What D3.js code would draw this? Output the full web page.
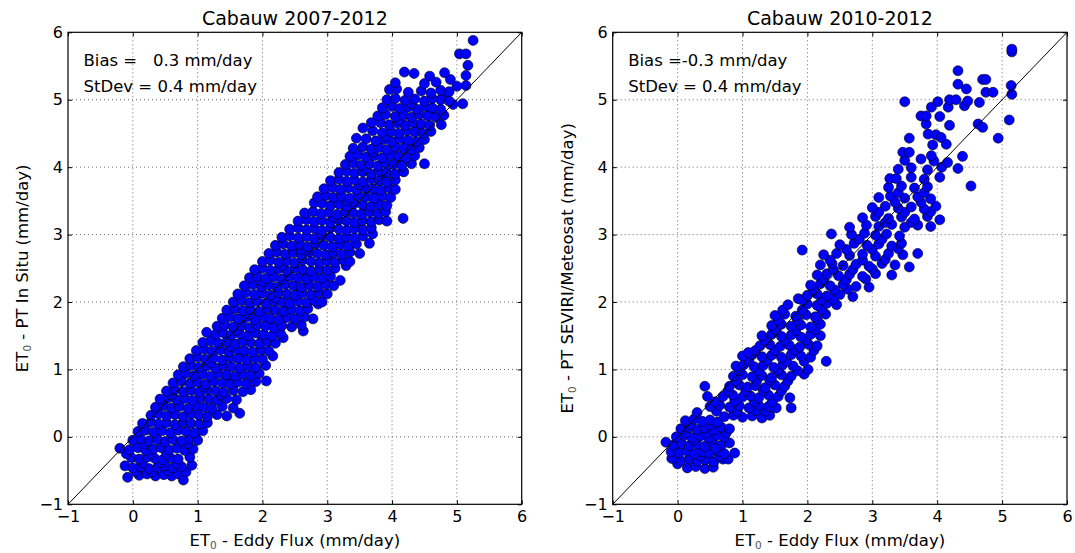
<!DOCTYPE html>
<html>
<head>
<meta charset="utf-8">
<script src="https://cdn.jsdelivr.net/npm/d3@7"></script>
<style>
  body { margin: 0; background: #fff; }
  text { font-family: "DejaVu Sans", sans-serif; fill: #000; }
</style>
</head>
<body>
<div id="chart"></div>
<script>
// # Panel texts
const titles = ['Cabauw 2007-2012', 'Cabauw 2010-2012']
const yLabels = [' - PT In Situ (mm/day)', ' - PT SEVIRI/Meteosat (mm/day)']
const biasLabels = ['Bias =   0.3 mm/day', 'Bias =-0.3 mm/day']
const stdevLabels = ['StDev = 0.4 mm/day', 'StDev = 0.4 mm/day']
const xLabel = ' - Eddy Flux (mm/day)'
const tickValues = [-1, 0, 1, 2, 3, 4, 5, 6]

// # Left panel: eddy flux vs PT in situ, [x, y] in mm/day
const insituPoints = [
  [-0.08,-0.6],[0.1,-0.57],[0.22,-0.55],[0.35,-0.58],[0.48,-0.56],[0.6,-0.58],[0.7,-0.55],[0.78,-0.64],
  [0.05,-0.52],[0.3,-0.52],[0.55,-0.5],[0.82,-0.52],
  [-0.12,-0.43],[0.0,-0.46],[0.12,-0.44],[0.25,-0.47],[0.38,-0.45],[0.5,-0.43],[0.62,-0.46],[0.75,-0.44],[0.91,-0.42],
  [0.15,-0.38],[0.42,-0.38],[0.68,-0.4],
  [-0.02,-0.31],[0.1,-0.33],[0.22,-0.3],[0.34,-0.32],[0.46,-0.34],[0.58,-0.31],[0.7,-0.33],[0.88,-0.3],
  [-0.1,-0.25],[0.28,-0.25],[0.52,-0.25],
  [-0.2,-0.17],[-0.05,-0.19],[0.08,-0.16],[0.2,-0.2],[0.32,-0.18],[0.44,-0.16],[0.56,-0.19],[0.68,-0.17],[0.8,-0.2],[0.93,-0.18],
  [0.85,-0.1],[0.96,0.02],[0.18,-0.1],
  [0.0,-0.05],[0.12,-0.03],[0.25,-0.06],[0.38,-0.04],[0.5,-0.07],[0.62,-0.04],[0.75,-0.06],[0.88,-0.03],[1.0,-0.05],
  [0.08,0.08],[0.2,0.1],[0.32,0.07],[0.45,0.09],[0.58,0.06],[0.7,0.1],[0.82,0.08],[0.95,0.06],[1.08,0.09],
  [0.15,0.2],[0.28,0.22],[0.4,0.19],[0.52,0.21],[0.65,0.18],[0.78,0.22],[0.9,0.2],[1.03,0.19],[1.15,0.21],
  [0.28,0.32],[0.4,0.34],[0.52,0.31],[0.65,0.33],[0.78,0.3],[0.9,0.34],[1.02,0.32],[1.15,0.3],[1.3,0.33],[1.45,0.31],
  [0.35,0.44],[0.48,0.46],[0.6,0.43],[0.72,0.45],[0.85,0.42],[0.98,0.46],[1.1,0.44],[1.22,0.42],[1.38,0.45],[1.55,0.43],[1.65,0.35],
  [0.42,0.56],[0.55,0.58],[0.68,0.55],[0.8,0.57],[0.92,0.54],[1.05,0.58],[1.18,0.56],[1.3,0.54],[1.45,0.57],[1.6,0.55],
  [0.6,0.62],[1.36,0.62],
  [0.52,0.68],[0.65,0.7],[0.78,0.67],[0.9,0.69],[1.02,0.66],[1.15,0.7],[1.28,0.68],[1.4,0.66],[1.55,0.69],[1.7,0.67],[1.82,0.7],
  [1.1,0.74],[1.45,0.86],
  [0.62,0.8],[0.75,0.82],[0.88,0.79],[1.0,0.81],[1.12,0.78],[1.25,0.82],[1.38,0.8],[1.5,0.78],[1.62,0.81],[1.75,0.79],[1.9,0.82],[2.06,0.83],
  [0.7,0.92],[0.82,0.94],[0.95,0.91],[1.08,0.93],[1.2,0.9],[1.32,0.94],[1.45,0.92],[1.58,0.9],[1.7,0.93],[1.82,0.91],[1.95,0.94],
  [0.78,1.04],[0.9,1.06],[1.02,1.03],[1.15,1.05],[1.28,1.02],[1.4,1.06],[1.52,1.04],[1.65,1.02],[1.78,1.05],[1.9,1.03],[2.05,1.06],
  [1.2,1.1],[1.7,1.22],
  [0.88,1.16],[1.0,1.18],[1.12,1.15],[1.25,1.17],[1.38,1.14],[1.5,1.18],[1.62,1.16],[1.75,1.14],[1.88,1.17],[2.0,1.15],[2.16,1.2],
  [0.98,1.28],[1.1,1.3],[1.22,1.27],[1.35,1.29],[1.48,1.26],[1.6,1.3],[1.72,1.28],[1.85,1.26],[1.98,1.29],[2.1,1.27],
  [1.5,1.34],[2.0,1.46],
  [1.08,1.4],[1.2,1.42],[1.32,1.39],[1.45,1.41],[1.58,1.38],[1.7,1.42],[1.82,1.4],[1.95,1.38],[2.08,1.41],[2.2,1.39],[2.32,1.47],
  [1.14,1.55],[1.28,1.52],[1.4,1.54],[1.52,1.51],[1.65,1.53],[1.78,1.5],[1.9,1.54],[2.02,1.52],[2.15,1.5],[2.28,1.53],[2.63,1.57],
  [1.6,1.58],[2.1,1.7],
  [1.3,1.64],[1.42,1.66],[1.55,1.63],[1.68,1.65],[1.8,1.62],[1.92,1.66],[2.05,1.64],[2.18,1.62],[2.3,1.65],[2.45,1.63],[2.6,1.66],
  [1.38,1.76],[1.5,1.78],[1.62,1.75],[1.75,1.77],[1.88,1.74],[2.0,1.78],[2.12,1.76],[2.25,1.74],[2.38,1.77],[2.5,1.75],[2.65,1.78],[2.78,1.75],
  [1.8,1.82],[2.4,1.94],
  [1.45,1.88],[1.58,1.9],[1.7,1.87],[1.82,1.89],[1.95,1.86],[2.08,1.9],[2.2,1.88],[2.32,1.86],[2.45,1.89],[2.58,1.87],[2.7,1.9],[2.86,1.97],
  [1.55,2.0],[1.68,2.02],[1.8,1.99],[1.92,2.01],[2.05,1.98],[2.18,2.02],[2.3,2.0],[2.42,1.98],[2.55,2.01],[2.68,1.99],[2.8,2.02],[2.92,2.0],
  [2.2,2.06],[2.6,2.18],
  [1.62,2.12],[1.75,2.14],[1.88,2.11],[2.0,2.13],[2.12,2.1],[2.25,2.14],[2.38,2.12],[2.5,2.1],[2.62,2.13],[2.75,2.11],[2.88,2.14],[3.0,2.12],
  [1.72,2.24],[1.85,2.26],[1.98,2.23],[2.1,2.25],[2.22,2.22],[2.35,2.26],[2.48,2.24],[2.6,2.22],[2.72,2.25],[2.85,2.23],[2.98,2.26],[3.1,2.24],
  [2.0,2.3],[2.7,2.42],
  [1.8,2.36],[1.92,2.38],[2.05,2.35],[2.18,2.37],[2.3,2.34],[2.42,2.38],[2.55,2.36],[2.68,2.34],[2.8,2.37],[2.92,2.35],[3.05,2.38],[3.2,2.32],
  [1.88,2.48],[2.0,2.5],[2.12,2.47],[2.25,2.49],[2.38,2.46],[2.5,2.5],[2.62,2.48],[2.75,2.46],[2.88,2.49],[3.0,2.47],[3.12,2.5],[3.29,2.54],
  [2.3,2.54],[3.0,2.66],
  [2.0,2.6],[2.12,2.62],[2.25,2.59],[2.38,2.61],[2.5,2.58],[2.62,2.62],[2.75,2.6],[2.88,2.58],[3.0,2.61],[3.12,2.59],[3.25,2.62],[3.35,2.6],
  [2.1,2.72],[2.22,2.74],[2.35,2.71],[2.48,2.73],[2.6,2.7],[2.72,2.74],[2.85,2.72],[2.98,2.7],[3.1,2.73],[3.22,2.71],[3.35,2.74],[3.5,2.72],
  [2.6,2.78],[3.2,2.9],
  [2.2,2.84],[2.32,2.86],[2.45,2.83],[2.58,2.85],[2.7,2.82],[2.82,2.86],[2.95,2.84],[3.08,2.82],[3.2,2.85],[3.32,2.83],[3.45,2.86],[3.65,2.87],
  [2.3,2.96],[2.42,2.98],[2.55,2.95],[2.68,2.97],[2.8,2.94],[2.92,2.98],[3.05,2.96],[3.18,2.94],[3.3,2.97],[3.42,2.95],[3.55,2.98],[3.7,3.01],
  [2.9,3.02],[3.5,3.14],
  [2.42,3.08],[2.55,3.1],[2.68,3.07],[2.8,3.09],[2.92,3.06],[3.05,3.1],[3.18,3.08],[3.3,3.06],[3.42,3.09],[3.55,3.07],[3.68,3.1],
  [2.55,3.2],[2.68,3.22],[2.8,3.19],[2.92,3.21],[3.05,3.18],[3.18,3.22],[3.3,3.2],[3.42,3.18],[3.55,3.21],[3.68,3.19],[3.8,3.22],[3.92,3.2],[4.17,3.24],
  [3.1,3.26],[3.6,3.38],
  [2.65,3.32],[2.78,3.34],[2.9,3.31],[3.02,3.33],[3.15,3.3],[3.28,3.34],[3.4,3.32],[3.52,3.3],[3.65,3.33],[3.78,3.31],[3.9,3.34],
  [2.8,3.47],[2.92,3.46],[3.05,3.43],[3.18,3.45],[3.3,3.42],[3.42,3.46],[3.55,3.44],[3.68,3.42],[3.8,3.45],[3.92,3.43],
  [3.3,3.5],[3.8,3.62],
  [2.85,3.56],[2.98,3.58],[3.1,3.55],[3.22,3.57],[3.35,3.54],[3.48,3.58],[3.6,3.56],[3.72,3.54],[3.85,3.57],[3.98,3.55],
  [2.95,3.68],[3.08,3.7],[3.2,3.67],[3.32,3.69],[3.45,3.66],[3.58,3.7],[3.7,3.68],[3.82,3.66],[3.95,3.69],[4.05,3.67],
  [3.5,3.74],[3.9,3.86],
  [3.05,3.8],[3.18,3.82],[3.3,3.79],[3.42,3.81],[3.55,3.78],[3.68,3.82],[3.8,3.8],[3.92,3.78],[4.05,3.81],
  [3.18,3.92],[3.3,3.94],[3.42,3.91],[3.55,3.93],[3.68,3.9],[3.8,3.94],[3.92,3.92],[4.05,3.9],[4.18,3.93],
  [3.6,3.98],[4.1,4.1],
  [3.28,4.04],[3.4,4.06],[3.52,4.03],[3.65,4.05],[3.78,4.02],[3.9,4.06],[4.02,4.04],[4.15,4.02],[4.3,4.05],[4.5,4.05],
  [3.35,4.16],[3.48,4.18],[3.6,4.15],[3.72,4.17],[3.85,4.14],[3.98,4.18],[4.1,4.16],[4.22,4.14],[4.35,4.17],
  [3.7,4.22],[4.25,4.34],
  [3.4,4.28],[3.55,4.3],[3.68,4.27],[3.8,4.29],[3.92,4.26],[4.05,4.3],[4.18,4.28],[4.3,4.26],[4.42,4.29],
  [3.45,4.43],[3.6,4.42],[3.75,4.39],[3.88,4.41],[4.0,4.38],[4.12,4.42],[4.25,4.4],[4.38,4.38],[4.5,4.41],
  [3.9,4.46],[4.4,4.58],
  [3.55,4.58],[3.7,4.54],[3.85,4.51],[3.98,4.53],[4.1,4.5],[4.22,4.54],[4.35,4.52],[4.48,4.5],[4.6,4.53],
  [3.68,4.66],[3.82,4.66],[3.95,4.63],[4.08,4.65],[4.2,4.62],[4.32,4.66],[4.45,4.64],[4.58,4.62],[4.76,4.63],
  [4.1,4.7],[4.6,4.82],
  [3.78,4.76],[3.9,4.78],[4.05,4.75],[4.18,4.77],[4.3,4.74],[4.42,4.78],[4.55,4.76],[4.68,4.74],[4.8,4.77],
  [3.85,4.88],[4.0,4.9],[4.12,4.87],[4.25,4.89],[4.38,4.86],[4.5,4.9],[4.62,4.88],[4.75,4.86],[4.94,4.93],[5.09,4.94],
  [4.3,4.94],[4.8,5.06],
  [3.92,5.0],[4.05,5.02],[4.2,4.99],[4.35,5.01],[4.5,4.98],[4.62,5.02],[4.75,5.0],[4.88,4.98],
  [3.96,5.15],[4.07,5.16],[4.25,5.11],[4.45,5.13],[4.6,5.1],[4.75,5.14],[4.88,5.12],[5.14,5.21],
  [4.05,5.25],[4.5,5.24],[4.68,5.26],[4.9,5.3],[5.0,5.2],
  [4.19,5.41],[4.34,5.39],[4.58,5.35],[4.81,5.4],[5.14,5.36],[5.17,5.51],[5.04,5.68],[5.14,5.68],[5.25,5.88]
]

// # Right panel: eddy flux vs PT SEVIRI/Meteosat, [x, y] in mm/day
const seviriPoints = [
  [0.15,-0.46],[0.28,-0.44],[0.42,-0.47],[0.55,-0.45],[0.0,-0.4],
  [-0.09,-0.32],[0.05,-0.35],[0.18,-0.33],[0.3,-0.36],[0.43,-0.34],[0.56,-0.37],[0.7,-0.33],[0.78,-0.33],
  [0.35,-0.28],[0.65,-0.29],
  [-0.1,-0.22],[0.02,-0.24],[0.14,-0.21],[0.26,-0.25],[0.38,-0.22],[0.5,-0.24],[0.62,-0.21],[0.72,-0.25],[0.88,-0.24],
  [-0.18,-0.08],[-0.06,-0.12],[0.06,-0.1],[0.18,-0.13],[0.3,-0.11],[0.42,-0.14],[0.55,-0.1],[0.68,-0.12],[0.8,-0.09],
  [0.25,-0.05],[0.58,-0.17],
  [-0.02,0.0],[0.1,0.02],[0.22,-0.01],[0.35,0.01],[0.48,-0.02],[0.6,0.02],[0.72,0.0],
  [0.12,0.06],[0.45,0.06],[0.75,0.06],
  [0.05,0.12],[0.18,0.14],[0.3,0.11],[0.42,0.13],[0.55,0.1],[0.68,0.14],[0.8,0.12],
  [0.2,0.18],[0.5,0.18],
  [0.12,0.24],[0.25,0.26],[0.38,0.23],[0.5,0.25],[0.62,0.22],
  [0.3,0.36],[0.46,0.6],[0.42,0.75],
  [0.72,0.3],[0.86,0.32],[1.0,0.29],[1.15,0.31],[1.3,0.28],[1.42,0.32],
  [0.6,0.38],[0.92,0.38],[1.2,0.39],[1.35,0.38],
  [0.5,0.45],[0.65,0.47],[0.8,0.44],[0.95,0.46],[1.1,0.43],[1.25,0.47],[1.4,0.45],[1.52,0.43],[1.75,0.43],
  [0.58,0.52],[0.88,0.53],[1.18,0.52],[1.46,0.52],
  [0.7,0.6],[0.85,0.62],[1.0,0.59],[1.12,0.61],[1.25,0.58],[1.4,0.62],[1.55,0.6],[1.73,0.58],
  [0.78,0.68],[1.05,0.68],[1.32,0.69],[1.6,0.68],
  [0.8,0.75],[0.95,0.77],[1.08,0.74],[1.2,0.76],[1.35,0.73],[1.5,0.77],[1.65,0.75],
  [0.9,0.83],[1.22,0.83],[1.42,0.84],[1.7,0.83],
  [0.86,0.9],[1.0,0.92],[1.15,0.89],[1.3,0.91],[1.45,0.88],[1.6,0.92],[1.75,0.9],[1.95,0.93],
  [0.95,0.98],[1.25,0.98],[1.55,0.99],[1.85,0.98],
  [0.9,1.05],[1.02,1.07],[1.18,1.04],[1.32,1.06],[1.48,1.03],[1.62,1.07],[1.78,1.05],[2.01,1.0],
  [1.1,1.12],[1.38,1.13],[1.68,1.12],[1.95,1.12],
  [1.0,1.2],[1.15,1.22],[1.3,1.19],[1.45,1.21],[1.6,1.18],[1.75,1.22],[1.9,1.2],[2.05,1.18],[2.29,1.12],
  [1.2,1.28],[1.5,1.28],[1.8,1.29],[2.1,1.28],
  [1.09,1.25],[1.27,1.35],[1.42,1.37],[1.58,1.34],[1.72,1.36],[1.88,1.33],[2.02,1.37],[2.15,1.35],
  [1.35,1.43],[1.65,1.43],[1.98,1.44],
  [1.3,1.5],[1.45,1.52],[1.6,1.49],[1.75,1.51],[1.9,1.48],[2.05,1.52],[2.2,1.5],
  [1.52,1.58],[1.82,1.58],[2.12,1.59],
  [1.45,1.65],[1.6,1.67],[1.75,1.64],[1.9,1.66],[2.05,1.63],[2.2,1.67],
  [1.55,1.73],[1.85,1.73],[2.15,1.74],
  [1.5,1.8],[1.65,1.82],[1.82,1.79],[1.98,1.81],[2.12,1.78],[2.28,1.82],
  [1.62,1.88],[1.92,1.88],[2.22,1.89],
  [1.7,1.96],[1.86,2.05],[2.0,1.97],[2.15,1.95],[2.3,1.98],[2.45,1.96],
  [1.92,2.03],[2.22,2.03],[2.4,2.04],
  [2.0,2.1],[2.15,2.12],[2.3,2.09],[2.5,2.11],[2.7,2.08],
  [2.1,2.18],[2.42,2.18],[2.62,2.19],
  [2.05,2.25],[2.2,2.27],[2.35,2.24],[2.55,2.26],[2.75,2.23],[2.95,2.22],
  [2.25,2.33],[2.6,2.33],[2.9,2.34],
  [2.15,2.4],[2.3,2.42],[2.48,2.39],[2.65,2.41],[2.85,2.38],[3.05,2.42],[3.3,2.4],
  [2.4,2.48],[2.7,2.48],[3.0,2.49],
  [2.2,2.55],[2.38,2.57],[2.55,2.54],[2.75,2.56],[2.95,2.53],[3.15,2.57],[3.35,2.55],[3.57,2.52],
  [2.35,2.62],[2.85,2.62],[3.2,2.63],
  [2.25,2.7],[2.45,2.72],[2.65,2.69],[2.85,2.71],[3.05,2.68],[3.25,2.72],[3.47,2.7],[3.7,2.72],
  [1.92,2.77],[2.6,2.78],[3.0,2.78],[3.4,2.79],
  [2.5,2.85],[2.72,2.87],[2.92,2.84],[3.1,2.86],[3.3,2.83],[3.45,2.87],
  [2.8,2.93],[3.15,2.93],
  [2.37,3.01],[2.68,3.0],[2.88,3.02],[3.05,2.99],[3.22,3.01],[3.42,2.98],
  [2.65,3.11],[2.91,3.14],[3.1,3.12],[3.3,3.15],[3.5,3.11],[3.7,3.14],[3.9,3.12],
  [3.2,3.18],[3.6,3.18],
  [2.85,3.25],[3.05,3.27],[3.25,3.24],[3.45,3.26],[3.65,3.23],[3.85,3.27],[4.04,3.22],
  [3.1,3.33],[3.5,3.33],[3.9,3.34],
  [3.0,3.4],[3.2,3.42],[3.4,3.39],[3.6,3.41],[3.8,3.38],[3.98,3.42],
  [3.35,3.48],[3.75,3.48],
  [3.1,3.55],[3.28,3.57],[3.5,3.54],[3.7,3.56],[3.9,3.53],
  [3.4,3.62],[3.8,3.62],
  [3.25,3.7],[3.45,3.72],[3.65,3.69],[3.85,3.71],[4.52,3.72],
  [3.27,3.83],[3.37,3.83],[3.6,3.85],[3.8,3.82],[4.04,3.85],
  [3.4,3.97],[3.6,3.99],[3.85,3.96],[4.07,4.0],[4.32,3.98],
  [3.5,4.1],[3.75,4.12],[3.95,4.09],[4.16,4.07],
  [3.47,4.22],[3.57,4.22],[3.91,4.17],[4.39,4.16],
  [3.93,4.33],[4.14,4.34],
  [3.57,4.43],[3.86,4.49],[3.98,4.48],[4.06,4.44],[4.94,4.43],
  [3.83,4.64],[4.19,4.62],[4.63,4.64],[4.7,4.59],
  [3.75,4.76],[3.83,4.76],[4.04,4.75],[5.11,4.7],
  [3.91,4.89],[4.17,4.89],[4.42,4.91],
  [3.5,4.97],[4.01,4.97],[4.19,5.0],[4.29,5.0],[4.47,4.98],[4.65,4.96],
  [4.45,5.16],[4.75,5.11],[4.86,5.11],[5.15,5.08],
  [4.32,5.23],[5.14,5.21],
  [4.7,5.3],[4.75,5.3],
  [4.32,5.43],
  [5.15,5.71],[5.15,5.75]
]

const panelData = [insituPoints, seviriPoints]

// # Layout
const width = 1075
const height = 553
const plotTop = 32.3
const plotBottom = 504.3
const plotLefts = [68, 612.7]
const plotRights = [521.7, 1067]
const pointRadius = 5
const pointColor = '#0000ff'

const minus = (d) => (d < 0 ? '\u2212' + Math.abs(d) : String(d))

const svg = d3.select('#chart')
  .append('svg')
  .attr('width', width)
  .attr('height', height)

// # Draws one scatter panel.
function drawPanel(i) {
  const x = d3.scaleLinear().domain([-1, 6]).range([plotLefts[i], plotRights[i]])
  const y = d3.scaleLinear().domain([-1, 6]).range([plotBottom, plotTop])
  const g = svg.append('g')
  const cx = (plotLefts[i] + plotRights[i]) / 2

  // # Grid
  const inner = tickValues.slice(1, -1)
  g.append('g').selectAll('line').data(inner).enter().append('line')
    .attr('x1', d => x(d)).attr('x2', d => x(d))
    .attr('y1', plotTop).attr('y2', plotBottom)
    .attr('stroke', '#444').attr('stroke-width', 0.8).attr('stroke-dasharray', '1,3')
  g.append('g').selectAll('line').data(inner).enter().append('line')
    .attr('y1', d => y(d)).attr('y2', d => y(d))
    .attr('x1', plotLefts[i]).attr('x2', plotRights[i])
    .attr('stroke', '#444').attr('stroke-width', 0.8).attr('stroke-dasharray', '1,3')

  // # Points
  g.append('g').selectAll('circle').data(panelData[i]).enter().append('circle')
    .attr('cx', d => x(d[0]))
    .attr('cy', d => y(d[1]))
    .attr('r', pointRadius)
    .attr('fill', pointColor)
    .attr('stroke', '#000')
    .attr('stroke-width', 0.6)

  // # 1:1 line
  g.append('line')
    .attr('x1', x(-1)).attr('y1', y(-1))
    .attr('x2', x(6)).attr('y2', y(6))
    .attr('stroke', '#000').attr('stroke-width', 1)

  // # Axes with inward ticks on all sides
  const styleAxis = (a) => {
    a.select('.domain').remove()
    a.attr('font-size', 16).attr('font-family', '"DejaVu Sans", sans-serif')
    a.selectAll('line').attr('stroke', '#000')
  }
  g.append('g').attr('transform', `translate(0,${plotBottom})`)
    .call(d3.axisBottom(x).tickValues(tickValues).tickSize(-4).tickSizeOuter(0).tickPadding(6).tickFormat(minus))
    .call(styleAxis)
  g.append('g').attr('transform', `translate(${plotLefts[i]},0)`)
    .call(d3.axisLeft(y).tickValues(tickValues).tickSize(-4).tickSizeOuter(0).tickPadding(5).tickFormat(minus))
    .call(styleAxis)
  g.append('g').attr('transform', `translate(0,${plotTop})`)
    .call(d3.axisTop(x).tickValues(tickValues).tickSize(-4).tickSizeOuter(0).tickFormat(''))
    .call(styleAxis)
  g.append('g').attr('transform', `translate(${plotRights[i]},0)`)
    .call(d3.axisRight(y).tickValues(tickValues).tickSize(-4).tickSizeOuter(0).tickFormat(''))
    .call(styleAxis)

  // # Frame
  g.append('rect')
    .attr('x', plotLefts[i]).attr('y', plotTop)
    .attr('width', plotRights[i] - plotLefts[i]).attr('height', plotBottom - plotTop)
    .attr('fill', 'none').attr('stroke', '#000').attr('stroke-width', 1.2)

  // # Title
  g.append('text')
    .attr('x', cx).attr('y', 25)
    .attr('text-anchor', 'middle').attr('font-size', 19)
    .text(titles[i])

  // # Stats
  g.append('text')
    .attr('x', plotLefts[i] + 15.5).attr('y', 66)
    .attr('font-size', 16.5).style('white-space', 'pre')
    .text(biasLabels[i])
  g.append('text')
    .attr('x', plotLefts[i] + 15.5).attr('y', 92)
    .attr('font-size', 16.5).style('white-space', 'pre')
    .text(stdevLabels[i])

  // # Axis labels with ET0 subscript
  const addLabel = (sel, rest) => {
    sel.append('tspan').text('ET')
    sel.append('tspan').attr('dy', 3).attr('font-size', 10.5).attr('fill', '#555').text('0')
    sel.append('tspan').attr('dy', -3).text(rest)
  }
  const xl = g.append('text')
    .attr('x', cx).attr('y', 546)
    .attr('text-anchor', 'middle').attr('font-size', 16.5)
  addLabel(xl, xLabel)
  const yl = g.append('text')
    .attr('transform', `translate(${plotLefts[i] - 40},${(plotTop + plotBottom) / 2}) rotate(-90)`)
    .attr('text-anchor', 'middle').attr('font-size', 16.5)
  addLabel(yl, yLabels[i])
}

drawPanel(0)
drawPanel(1)
</script>
</body>
</html>
